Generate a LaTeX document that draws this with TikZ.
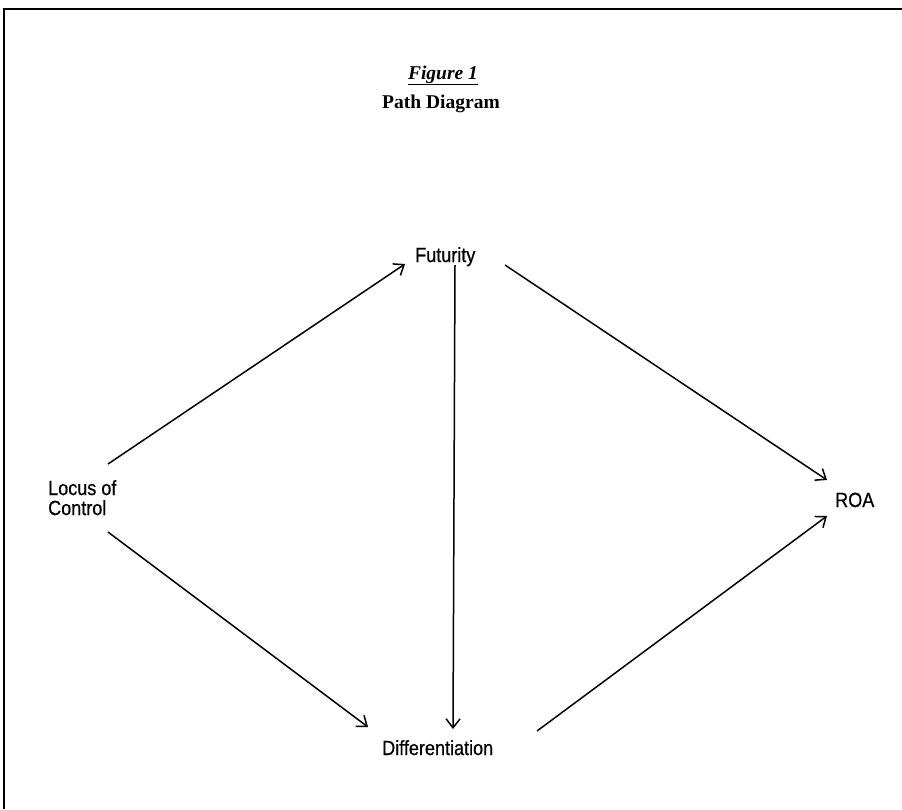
\documentclass[tikz,border=0pt]{standalone}
\usepackage{fontspec}
\setmainfont{Liberation Serif}
\newfontfamily\labfont[FakeStretch=0.88,FakeBold=0.6]{Liberation Sans}
\usetikzlibrary{arrows.meta}
\begin{document}
\begin{tikzpicture}[x=1pt,y=-1pt,
  lab/.style={inner sep=0pt, font=\labfont\fontsize{20.5}{20}\selectfont},
  ttlstyle/.style={inner sep=0pt, anchor=base},
  arr/.style={line width=1.5pt, -{Straight Barb[length=9pt,width=14pt,line width=1.5pt]}},
  framestyle/.style={line width=2.6pt}]
\useasboundingbox (0,0) rectangle (902,809);
\draw[framestyle] (4,809) -- (4,9) -- (902,9);
\node[ttlstyle, font=\bfseries\itshape\fontsize{19.5}{20}\selectfont] (fig) at (443,79) {\underline{Figure 1}};
\node[ttlstyle, font=\bfseries\fontsize{19.5}{20}\selectfont] (ttl) at (441,108) {Path Diagram};
\node[lab, anchor=base west] (fut) at (415,262) {Futurity};
\node[lab, anchor=base west] (dif) at (382,755) {Differentiation};
\node[lab, anchor=base west] (roa) at (835,507) {ROA};
\node[lab, anchor=north west, align=left] (loc) at (48,480) {Locus of\\Control};
\draw[arr] ([shift={(60,-16)}]loc.north west) -- ([shift={(-10,2)}]fut.base west);
\draw[arr] ([shift={(60,52)}]loc.north west) -- ([shift={(-14,-28)}]dif.base west);
\draw[arr] ([shift={(90,3)}]fut.base west) -- ([shift={(-8,-27)}]roa.base west);
\draw[arr] ([shift={(155,-24)}]dif.base west) -- ([shift={(-8,9)}]roa.base west);
\draw[arr] ([shift={(40,3)}]fut.base west) -- ([shift={(71,-26)}]dif.base west);
\end{tikzpicture}
\end{document}
